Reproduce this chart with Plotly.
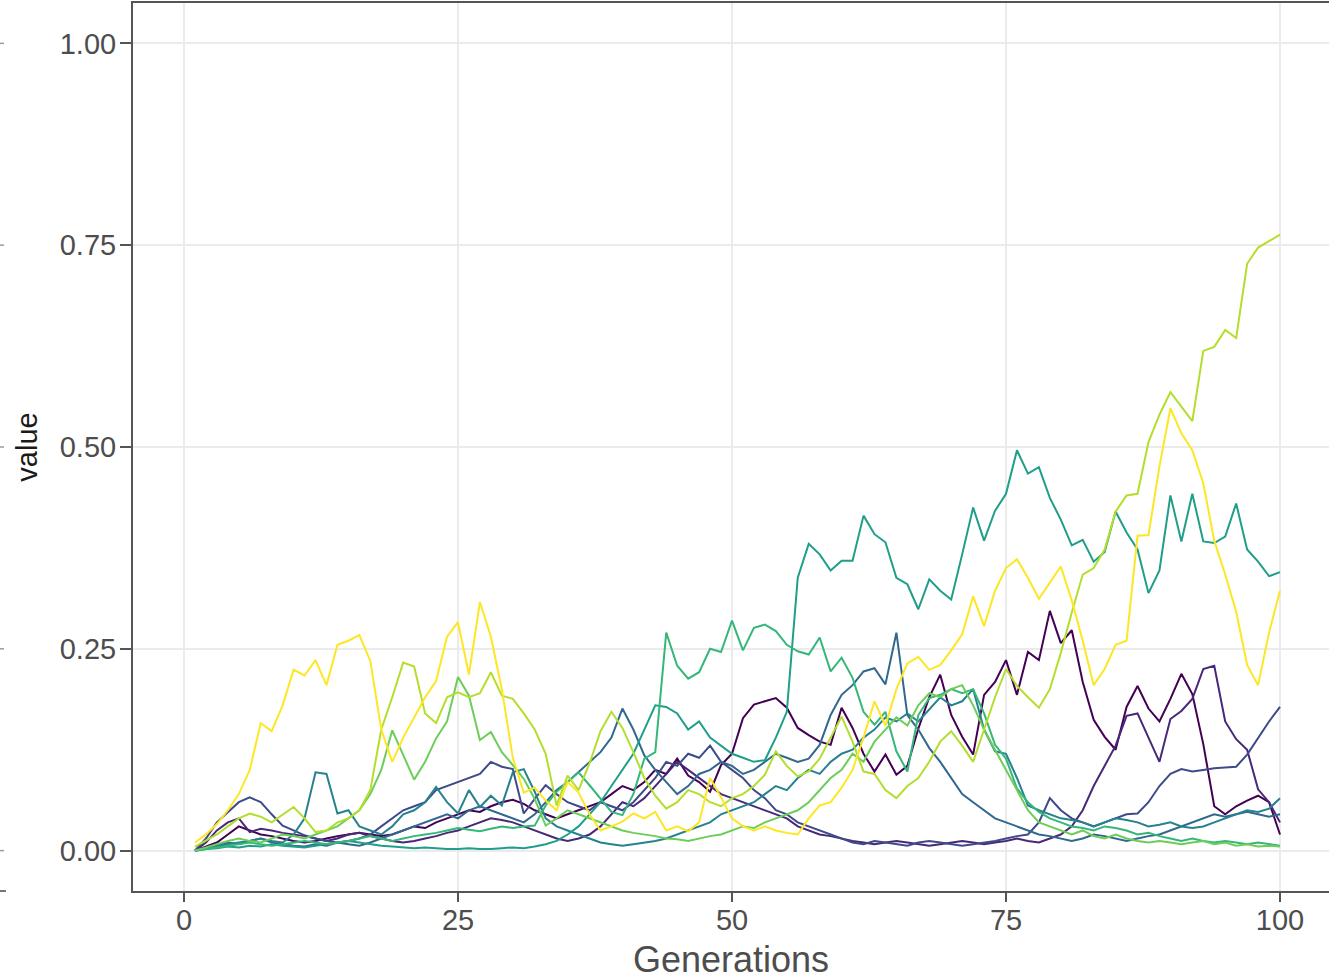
import plotly.graph_objects as go

generations = list(range(1, 101))

# ---- series values (one list per allele) ----
s01 = [0.000,0.005,0.010,0.020,0.030,0.025,0.020,0.018,0.015,0.012,
       0.010,0.012,0.015,0.018,0.020,0.022,0.020,0.018,0.020,0.025,
       0.030,0.028,0.035,0.040,0.045,0.050,0.048,0.055,0.060,0.063,
       0.058,0.050,0.045,0.040,0.045,0.050,0.055,0.060,0.070,0.080,
       0.075,0.085,0.100,0.095,0.114,0.093,0.085,0.073,0.106,0.120,
       0.164,0.181,0.185,0.189,0.177,0.152,0.143,0.135,0.131,0.177,
       0.152,0.120,0.098,0.119,0.094,0.105,0.151,0.190,0.218,0.168,
       0.141,0.119,0.193,0.209,0.236,0.193,0.246,0.236,0.297,0.257,
       0.273,0.209,0.162,0.141,0.125,0.178,0.204,0.176,0.160,0.188,
       0.219,0.194,0.132,0.055,0.045,0.055,0.062,0.068,0.060,0.020]

s02 = [0.000,0.010,0.025,0.035,0.040,0.023,0.027,0.025,0.022,0.020,
       0.018,0.015,0.012,0.015,0.020,0.022,0.018,0.015,0.012,0.010,
       0.012,0.015,0.018,0.022,0.025,0.030,0.035,0.040,0.038,0.035,
       0.030,0.025,0.020,0.015,0.012,0.015,0.020,0.030,0.045,0.060,
       0.055,0.065,0.080,0.095,0.110,0.100,0.090,0.080,0.070,0.065,
       0.060,0.055,0.050,0.045,0.040,0.030,0.025,0.020,0.018,0.015,
       0.012,0.010,0.008,0.010,0.012,0.010,0.008,0.006,0.008,0.010,
       0.012,0.010,0.008,0.010,0.012,0.015,0.012,0.010,0.015,0.020,
       0.030,0.050,0.080,0.105,0.130,0.167,0.170,0.140,0.110,0.163,
       0.173,0.188,0.225,0.229,0.160,0.138,0.125,0.076,0.060,0.035]

s03 = [0.000,0.015,0.035,0.048,0.060,0.066,0.060,0.045,0.031,0.025,
       0.019,0.015,0.012,0.010,0.012,0.015,0.020,0.030,0.040,0.050,
       0.055,0.060,0.075,0.080,0.085,0.090,0.095,0.110,0.104,0.101,
       0.046,0.064,0.081,0.070,0.060,0.055,0.050,0.060,0.055,0.050,
       0.060,0.075,0.090,0.110,0.105,0.120,0.115,0.130,0.110,0.100,
       0.090,0.075,0.065,0.050,0.045,0.035,0.030,0.025,0.020,0.015,
       0.010,0.008,0.012,0.010,0.008,0.006,0.010,0.012,0.010,0.008,
       0.006,0.008,0.010,0.012,0.015,0.018,0.020,0.035,0.065,0.050,
       0.040,0.035,0.030,0.035,0.040,0.045,0.046,0.060,0.080,0.095,
       0.101,0.098,0.100,0.102,0.103,0.104,0.119,0.140,0.160,0.178]

s04 = [0.000,0.003,0.006,0.010,0.008,0.012,0.015,0.010,0.008,0.006,
       0.005,0.008,0.006,0.010,0.008,0.006,0.010,0.015,0.020,0.025,
       0.030,0.035,0.040,0.045,0.040,0.050,0.055,0.050,0.045,0.040,
       0.035,0.045,0.060,0.075,0.085,0.097,0.110,0.122,0.140,0.176,
       0.150,0.118,0.100,0.085,0.070,0.080,0.095,0.100,0.110,0.105,
       0.095,0.100,0.110,0.120,0.115,0.110,0.114,0.131,0.168,0.193,
       0.205,0.222,0.226,0.206,0.270,0.168,0.150,0.127,0.110,0.090,
       0.070,0.060,0.050,0.040,0.035,0.030,0.025,0.020,0.018,0.015,
       0.012,0.015,0.020,0.018,0.015,0.012,0.015,0.018,0.020,0.025,
       0.030,0.035,0.040,0.045,0.042,0.045,0.048,0.045,0.042,0.045]

s05 = [0.000,0.003,0.005,0.008,0.010,0.012,0.015,0.012,0.010,0.020,
       0.040,0.097,0.095,0.046,0.050,0.030,0.025,0.020,0.030,0.045,
       0.050,0.060,0.079,0.060,0.046,0.075,0.054,0.068,0.056,0.097,
       0.101,0.073,0.040,0.030,0.025,0.020,0.015,0.010,0.008,0.006,
       0.008,0.010,0.012,0.015,0.020,0.025,0.030,0.035,0.045,0.050,
       0.055,0.060,0.070,0.080,0.075,0.090,0.100,0.095,0.110,0.120,
       0.125,0.140,0.150,0.165,0.160,0.170,0.160,0.175,0.190,0.180,
       0.185,0.200,0.150,0.123,0.120,0.090,0.056,0.050,0.045,0.040,
       0.038,0.035,0.030,0.035,0.040,0.038,0.035,0.030,0.032,0.035,
       0.030,0.028,0.030,0.035,0.040,0.045,0.050,0.048,0.052,0.065]

s06 = [0.000,0.002,0.003,0.005,0.004,0.006,0.005,0.008,0.006,0.005,
       0.004,0.006,0.008,0.010,0.012,0.010,0.008,0.006,0.005,0.004,
       0.003,0.004,0.003,0.002,0.002,0.003,0.002,0.002,0.003,0.004,
       0.003,0.005,0.008,0.012,0.020,0.030,0.045,0.060,0.080,0.100,
       0.120,0.150,0.180,0.178,0.170,0.150,0.160,0.140,0.130,0.120,
       0.115,0.110,0.112,0.140,0.172,0.338,0.380,0.367,0.347,0.359,
       0.359,0.415,0.392,0.382,0.338,0.330,0.299,0.336,0.322,0.311,
       0.367,0.425,0.384,0.421,0.442,0.496,0.467,0.475,0.437,0.410,
       0.378,0.385,0.358,0.370,0.420,0.394,0.373,0.319,0.347,0.440,
       0.383,0.442,0.383,0.381,0.389,0.430,0.373,0.358,0.340,0.345]

s07 = [0.000,0.002,0.004,0.006,0.008,0.010,0.008,0.006,0.008,0.010,
       0.012,0.010,0.008,0.010,0.012,0.015,0.018,0.015,0.012,0.015,
       0.018,0.020,0.022,0.025,0.028,0.026,0.024,0.027,0.030,0.028,
       0.030,0.031,0.056,0.073,0.085,0.097,0.081,0.065,0.048,0.044,
       0.070,0.114,0.122,0.270,0.229,0.213,0.221,0.250,0.246,0.285,
       0.248,0.276,0.280,0.272,0.255,0.247,0.243,0.264,0.222,0.239,
       0.214,0.172,0.156,0.172,0.123,0.098,0.168,0.189,0.193,0.200,
       0.195,0.200,0.170,0.131,0.114,0.077,0.060,0.048,0.040,0.035,
       0.030,0.028,0.025,0.030,0.028,0.025,0.020,0.022,0.018,0.015,
       0.012,0.015,0.012,0.010,0.012,0.010,0.008,0.010,0.008,0.006]

s08 = [0.000,0.004,0.008,0.012,0.015,0.012,0.010,0.015,0.020,0.018,
       0.015,0.020,0.025,0.030,0.040,0.050,0.070,0.100,0.149,0.118,
       0.088,0.110,0.139,0.160,0.215,0.192,0.137,0.147,0.122,0.106,
       0.089,0.064,0.031,0.040,0.050,0.045,0.040,0.035,0.030,0.025,
       0.022,0.020,0.018,0.015,0.014,0.012,0.015,0.018,0.020,0.025,
       0.030,0.028,0.035,0.040,0.045,0.050,0.060,0.075,0.090,0.100,
       0.120,0.110,0.135,0.150,0.165,0.155,0.180,0.195,0.190,0.200,
       0.205,0.180,0.150,0.125,0.100,0.075,0.050,0.035,0.030,0.025,
       0.020,0.025,0.018,0.015,0.020,0.015,0.012,0.010,0.012,0.010,
       0.008,0.010,0.012,0.008,0.010,0.006,0.008,0.005,0.006,0.005]

s09 = [0.005,0.012,0.020,0.030,0.040,0.046,0.042,0.035,0.045,0.054,
       0.040,0.023,0.025,0.035,0.040,0.050,0.075,0.150,0.190,0.233,
       0.228,0.170,0.158,0.190,0.196,0.190,0.195,0.221,0.192,0.188,
       0.170,0.150,0.120,0.056,0.093,0.075,0.108,0.148,0.172,0.152,
       0.122,0.090,0.068,0.052,0.060,0.075,0.070,0.060,0.055,0.065,
       0.070,0.080,0.094,0.123,0.105,0.092,0.098,0.114,0.140,0.166,
       0.135,0.098,0.095,0.075,0.065,0.080,0.090,0.110,0.135,0.148,
       0.130,0.110,0.150,0.190,0.225,0.204,0.190,0.177,0.200,0.245,
       0.295,0.342,0.350,0.373,0.420,0.440,0.442,0.506,0.540,0.568,
       0.550,0.532,0.619,0.624,0.645,0.635,0.727,0.747,0.755,0.763]

s10 = [0.010,0.020,0.033,0.050,0.070,0.100,0.158,0.148,0.180,0.224,
       0.217,0.236,0.205,0.255,0.260,0.267,0.235,0.150,0.110,0.140,
       0.165,0.190,0.210,0.265,0.283,0.218,0.308,0.265,0.200,0.115,
       0.072,0.078,0.062,0.050,0.085,0.072,0.045,0.025,0.030,0.036,
       0.046,0.040,0.048,0.025,0.030,0.024,0.035,0.090,0.066,0.040,
       0.030,0.025,0.030,0.025,0.022,0.020,0.040,0.056,0.060,0.078,
       0.100,0.140,0.185,0.155,0.200,0.232,0.240,0.224,0.230,0.248,
       0.268,0.315,0.278,0.322,0.350,0.361,0.338,0.312,0.332,0.352,
       0.310,0.260,0.205,0.225,0.255,0.260,0.390,0.391,0.476,0.548,
       0.517,0.496,0.455,0.384,0.342,0.296,0.230,0.205,0.270,0.322]

series_names = ["1", "2", "3", "4", "5", "6", "7", "8", "9", "10"]
series_colors = ["#440154", "#482878", "#3E4A89", "#31688E", "#26828E",
                 "#1F9E89", "#35B779", "#6DCD59", "#B4DE2C", "#FDE725"]
series_values = [s01, s02, s03, s04, s05, s06, s07, s08, s09, s10]

x_ticks = [0, 25, 50, 75, 100]
y_ticks = [0.0, 0.25, 0.5, 0.75, 1.0]
y_tick_labels = ["0.00", "0.25", "0.50", "0.75", "1.00"]

fig = go.Figure()
for name, color, vals in zip(series_names, series_colors, series_values):
    fig.add_trace(go.Scatter(x=generations, y=vals, mode="lines", name=name,
                             line=dict(color=color, width=2)))

FONT = "Liberation Sans, Arial, sans-serif"
axis_font = dict(family=FONT, size=29, color="#4d4d4d")

# small gray marks at the very left edge (remnants of a neighbouring panel)
edge_x0 = -133 / 1196
edge_x1 = -129 / 1196
shapes = []
for yv in y_ticks:
    shapes.append(dict(type="line", xref="paper", yref="y", x0=edge_x0, x1=edge_x1,
                       y0=yv, y1=yv, line=dict(color="#9a9a9a", width=1.5)))
shapes.append(dict(type="line", xref="paper", yref="paper", x0=edge_x0, x1=-127 / 1196,
                   y0=0, y1=0, line=dict(color="#777777", width=2)))

fig.update_layout(
    width=1329, height=980,
    margin=dict(l=133, r=0, t=3, b=89),
    paper_bgcolor="white", plot_bgcolor="white",
    showlegend=False,
    font=dict(family=FONT),
    shapes=shapes,
)
fig.update_xaxes(
    range=[-4.653, 104.47], tickvals=x_ticks, ticks="outside", ticklen=9,
    tickwidth=1.5, tickcolor="#555555", tickfont=axis_font, ticklabelstandoff=-7,
    showgrid=True, gridcolor="#ebebeb", gridwidth=1.5, zeroline=False,
    showline=True, linecolor="#555555", linewidth=2, mirror=True,
    title=dict(text="Generations", standoff=16,
               font=dict(family=FONT, size=36, color="#4d4d4d")),
)
fig.update_yaxes(
    range=[-0.05, 1.05], tickvals=y_ticks, ticktext=y_tick_labels, ticks="outside",
    ticklen=11, tickwidth=1.5, tickcolor="#555555", tickfont=axis_font, ticklabelstandoff=-2,
    showgrid=True, gridcolor="#ebebeb", gridwidth=1.5, zeroline=False,
    showline=True, linecolor="#555555", linewidth=2, mirror=False,
    title=dict(text="value", standoff=14,
               font=dict(family=FONT, size=29, color="#1a1a1a")),
)

fig.write_html("out.html")
